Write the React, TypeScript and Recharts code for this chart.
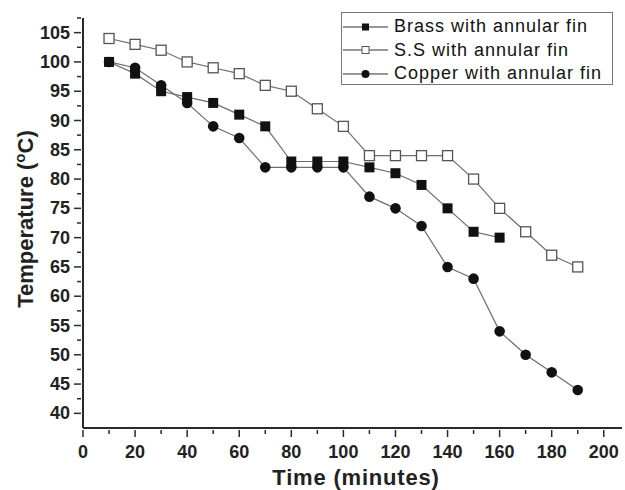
import { LineChart, Line, XAxis, YAxis, Label } from "recharts";

const times = [10, 20, 30, 40, 50, 60, 70, 80, 90, 100, 110, 120, 130, 140, 150, 160, 170, 180, 190];
const brass = [100, 98, 95, 94, 93, 91, 89, 83, 83, 83, 82, 81, 79, 75, 71, 70];
const stainless = [104, 103, 102, 100, 99, 98, 96, 95, 92, 89, 84, 84, 84, 84, 80, 75, 71, 67, 65];
const copper = [100, 99, 96, 93, 89, 87, 82, 82, 82, 82, 77, 75, 72, 65, 63, 54, 50, 47, 44];

const xTicks = [0, 10, 20, 30, 40, 50, 60, 70, 80, 90, 100, 110, 120, 130, 140, 150, 160, 170, 180, 190, 200];
const yTicks = [40, 42.5, 45, 47.5, 50, 52.5, 55, 57.5, 60, 62.5, 65, 67.5, 70, 72.5, 75, 77.5, 80, 82.5, 85, 87.5, 90, 92.5, 95, 97.5, 100, 102.5, 105, 107.5];

const rows = times.map((t, i) => ({
  t,
  brass: brass[i] ?? null,
  ss: stainless[i] ?? null,
  cu: copper[i] ?? null,
}));

const AXIS = "#2a2a2a";
const LINE = "#6e6e6e";
const FONT = "'Liberation Sans', Arial, sans-serif";

const XTick = (p: any) => {
  const v = p.payload.value;
  const major = v % 20 === 0;
  return (
    <g>
      <line x1={p.x} x2={p.x} y1={p.y} y2={p.y + (major ? 7 : 4)} stroke={AXIS} strokeWidth={1.5} />
      {major && (
        <text x={p.x} y={p.y + 28} textAnchor="middle" fontFamily={FONT} fontWeight="bold" fontSize={18} fill="#222">
          {v}
        </text>
      )}
    </g>
  );
};

const YTick = (p: any) => {
  const v = p.payload.value;
  const major = v % 5 === 0;
  return (
    <g>
      <line x1={p.x} x2={p.x - (major ? 7 : 4)} y1={p.y} y2={p.y} stroke={AXIS} strokeWidth={1.5} />
      {major && (
        <text x={p.x - 11} y={p.y + 6} textAnchor="end" fontFamily={FONT} fontWeight="bold" fontSize={18} fill="#222">
          {v}
        </text>
      )}
    </g>
  );
};

const filledSquare = (p: any) =>
  p.cy == null ? <g key={p.index} /> : <rect key={p.index} x={p.cx - 5} y={p.cy - 5} width={10} height={10} fill="#111" />;
const openSquare = (p: any) =>
  p.cy == null ? <g key={p.index} /> : (
    <rect key={p.index} x={p.cx - 5} y={p.cy - 5} width={10} height={10} fill="#fff" stroke="#555" strokeWidth={1.3} />
  );
const circle = (p: any) =>
  p.cy == null ? <g key={p.index} /> : <circle key={p.index} cx={p.cx} cy={p.cy} r={5.3} fill="#111" />;

const legendItems = [
  { name: "Brass with annular fin", mark: "fsq" },
  { name: "S.S with annular fin", mark: "osq" },
  { name: "Copper with annular fin", mark: "cir" },
];

const LegendBox = () => (
  <div
    style={{
      position: "absolute",
      left: 341,
      top: 12,
      width: 272,
      height: 73,
      border: "1.5px solid #777",
      background: "#fff",
      fontFamily: FONT,
      fontSize: 18,
      letterSpacing: 1,
      color: "#111",
      boxSizing: "border-box",
      paddingTop: 2,
    }}
  >
    {legendItems.map((it) => (
      <div key={it.name} style={{ display: "flex", alignItems: "center", height: 23.5 }}>
        <svg width={52} height={14} style={{ marginLeft: 0 }}>
          <line x1={1} x2={46} y1={7} y2={7} stroke="#333" strokeWidth={1.2} />
          {it.mark === "fsq" && <rect x={20} y={3.5} width={7} height={7} fill="#111" />}
          {it.mark === "osq" && <rect x={20} y={3.5} width={7} height={7} fill="#fff" stroke="#555" />}
          {it.mark === "cir" && <circle cx={23.5} cy={7} r={4} fill="#111" />}
        </svg>
        <span>{it.name}</span>
      </div>
    ))}
  </div>
);

export default function App() {
  return (
    <div style={{ position: "absolute", left: 0, top: 0, width: 625, height: 490, background: "#fff" }}>
      <LineChart width={625} height={490} data={rows} margin={{ top: 18, right: 3, left: 0, bottom: 0 }}>
        <XAxis
          dataKey="t"
          type="number"
          domain={[0, 207]}
          ticks={xTicks}
          interval={0}
          tick={<XTick />}
          tickLine={false}
          tickSize={0}
          height={62}
          axisLine={{ stroke: AXIS, strokeWidth: 2 }}
        >
          <Label
            content={(lp: any) => (
              <text
                x={lp.viewBox.x + 273}
                y={lp.viewBox.y + 57}
                textAnchor="middle"
                fontFamily={FONT}
                fontWeight="bold"
                fontSize={22}
                letterSpacing={0.8}
                fill="#222"
              >
                Time (minutes)
              </text>
            )}
          />
        </XAxis>
        <YAxis
          type="number"
          domain={[37.5, 107.5]}
          ticks={yTicks}
          interval={0}
          tick={<YTick />}
          tickLine={false}
          tickSize={0}
          width={83}
          axisLine={{ stroke: AXIS, strokeWidth: 2 }}
        >
          <Label
            content={() => (
              <text
                transform="translate(33,219) rotate(-90)"
                textAnchor="middle"
                fontFamily={FONT}
                fontWeight="bold"
                fontSize={22}
                fill="#222"
              >
                Temperature (
                <tspan dy={-8} fontSize={15}>o</tspan>
                <tspan dy={8}>C)</tspan>
              </text>
            )}
          />
        </YAxis>
        <Line dataKey="ss" name="S.S with annular fin" stroke={LINE} strokeWidth={1.2} dot={openSquare} isAnimationActive={false} connectNulls={false} />
        <Line dataKey="brass" name="Brass with annular fin" stroke={LINE} strokeWidth={1.2} dot={filledSquare} isAnimationActive={false} connectNulls={false} />
        <Line dataKey="cu" name="Copper with annular fin" stroke={LINE} strokeWidth={1.2} dot={circle} isAnimationActive={false} connectNulls={false} />
      </LineChart>
      <LegendBox />
    </div>
  );
}
